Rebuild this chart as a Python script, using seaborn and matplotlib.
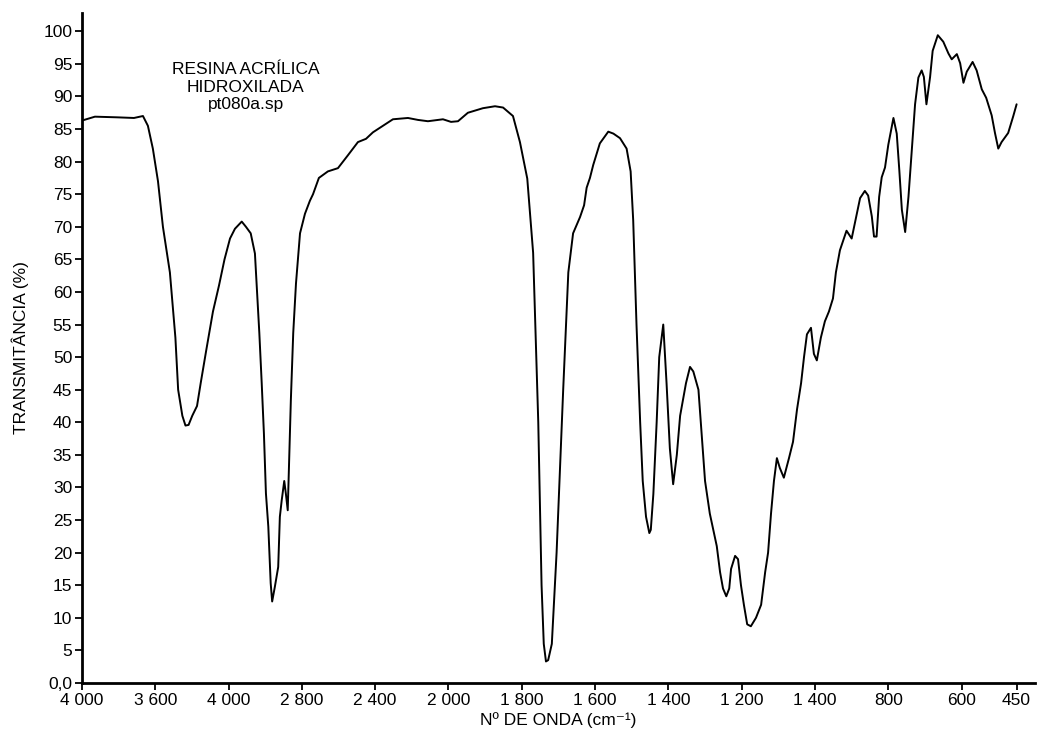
import numpy as np
import seaborn as sns
import matplotlib
matplotlib.use("Agg")
import matplotlib.pyplot as plt

# espectro IV - numero de onda (cm-1) e transmitancia (%)
wavenumber = [4000, 3929, 3809, 3716, 3667, 3640, 3613, 3585, 3558, 3520, 3490, 3475, 3452, 3435, 3418,
              3398, 3372, 3352, 3322, 3285, 3252, 3222, 3192, 3165, 3128, 3105, 3079, 3068, 3056, 3047,
              3032, 3019, 3007, 2996, 2983, 2970, 2962, 2947, 2929, 2920, 2910, 2896, 2887, 2877, 2869,
              2860, 2847, 2832, 2810, 2783, 2756, 2739, 2707, 2658, 2603, 2548, 2494, 2450, 2412, 2357,
              2303, 2221, 2166, 2112, 2030, 1993, 1974, 1947, 1906, 1873, 1851, 1824, 1805, 1785, 1769,
              1755, 1746, 1740, 1734, 1728, 1718, 1705, 1687, 1673, 1660, 1641, 1630, 1623, 1614, 1605,
              1587, 1564, 1550, 1532, 1514, 1503, 1496, 1487, 1477, 1470, 1461, 1452, 1448, 1441, 1432,
              1425, 1414, 1405, 1396, 1387, 1377, 1368, 1352, 1341, 1332, 1318, 1309, 1300, 1287, 1268,
              1259, 1251, 1242, 1234, 1229, 1218, 1210, 1202, 1194, 1185, 1175, 1161, 1147, 1136, 1128,
              1120, 1112, 1104, 1096, 1085, 1071, 1060, 1049, 1038, 1030, 1022, 1011, 1003, 995, 984,
              973, 962, 951, 943, 932, 914, 900, 886, 877, 864, 855, 845, 839, 832, 825,
              818, 809, 800, 786, 777, 770, 763, 754, 745, 736, 727, 718, 709, 703, 696,
              686, 679, 665, 650, 636, 627, 613, 604, 595, 586, 570, 559, 545, 533, 518,
              509, 500, 491, 473, 459, 450]
transmittance = [86.3, 86.9, 86.8, 86.7, 87.0, 85.5, 82, 77, 70, 63, 53, 45, 41, 39.5, 39.6,
                 41, 42.5, 46, 51, 57, 61, 65, 68.2, 69.7, 70.8, 70, 69.0, 67.5, 65.9, 61.3,
                 53.7, 46, 38.3, 29.1, 24, 15.3, 12.5, 14.8, 17.8, 25.5, 28, 31, 29, 26.5, 34.2,
                 43.4, 53.7, 61.3, 69, 72, 74, 75, 77.5, 78.5, 79, 81, 83, 83.5, 84.5, 85.5,
                 86.5, 86.7, 86.4, 86.2, 86.5, 86.1, 86.2, 87.5, 88.2, 88.5, 88.3, 87, 83, 77.4, 66,
                 40, 15, 6, 3.3, 3.5, 6, 20, 45, 63, 69, 71.5, 73.3, 76, 77.5, 79.5,
                 82.8, 84.6, 84.3, 83.6, 82, 78.5, 71, 55, 40, 31, 25.5, 23, 23.5, 29, 40,
                 50, 55, 46, 36, 30.5, 35, 41, 46, 48.5, 47.8, 45, 38, 31, 26, 21,
                 17, 14.5, 13.3, 14.5, 17.5, 19.5, 19, 15, 12, 9, 8.7, 10, 12, 17, 20,
                 26, 31, 34.5, 33, 31.5, 34.5, 37, 42, 46, 50, 53.5, 54.5, 50.5, 49.5, 53,
                 55.5, 57, 59, 63, 66.4, 69.4, 68.2, 72, 74.4, 75.5, 74.8, 71.6, 68.5, 68.5, 74.6,
                 77.6, 79.1, 82.6, 86.7, 84.3, 78.7, 72.6, 69.2, 74.6, 81.7, 88.8, 92.9, 94, 93, 88.8,
                 93, 97, 99.4, 98.4, 96.6, 95.7, 96.5, 95.1, 92.1, 93.8, 95.3, 94, 91.1, 89.8, 87.1,
                 84.4, 82, 83, 84.4, 87, 88.8]

xticks = [4000, 3600, 3200, 2800, 2400, 2000, 1800, 1600, 1400, 1200, 1000, 800, 600, 450]
xticklabels = ["4 000", "3 600", "4 000", "2 800", "2 400", "2 000", "1 800", "1 600",
               "1 400", "1 200", "1 400", "800", "600", "450"]
yticks = list(range(0, 101, 5))
yticklabels = ["0,0"] + [str(v) for v in yticks[1:]]


# eixo com mudanca de escala em 2000 cm-1 (400 cm-1 por divisao acima, 200 abaixo)
def pos(w):
    w = np.asarray(w, dtype=float)
    return np.where(w >= 2000, (4000 - w) / 400, 5 + (2000 - w) / 200)


sns.set_style("ticks")
plt.rcParams['font.family'] = ['Liberation Sans', 'DejaVu Sans']
plt.rcParams['text.color'] = 'black'
plt.rcParams['axes.labelcolor'] = 'black'

fig = plt.figure(figsize=(10.37, 7.46), dpi=100)
ax = fig.add_axes([0.079, 0.0845, 0.919, 0.898])

sns.lineplot(x=pos(wavenumber), y=transmittance, ax=ax, color='black', linewidth=1.4, sort=False)

ax.set_xlim(pos(4000), pos(400))
ax.set_ylim(0, 102.8)
ax.set_xticks(pos(xticks))
ax.set_xticklabels(xticklabels)
ax.set_yticks(yticks)
ax.set_yticklabels(yticklabels)
ax.tick_params(axis='both', labelsize=12.5, colors='black', length=5, width=1.3, pad=2)

for s in ['top', 'right']:
    ax.spines[s].set_visible(False)
for s in ['left', 'bottom']:
    ax.spines[s].set_linewidth(2)
    ax.spines[s].set_color('black')

ax.set_xlabel("Nº DE ONDA (cm⁻¹)", fontsize=12.5, labelpad=3)
ax.set_ylabel("TRANSMITÂNCIA (%)", fontsize=12.5, labelpad=10)

ax.text(0.172, 0.8896, "RESINA ACRÍLICA\nHIDROXILADA\npt080a.sp", transform=ax.transAxes,
        ha='center', va='center', fontsize=12.5, linespacing=1.2)

plt.savefig("out.png", dpi=100)
